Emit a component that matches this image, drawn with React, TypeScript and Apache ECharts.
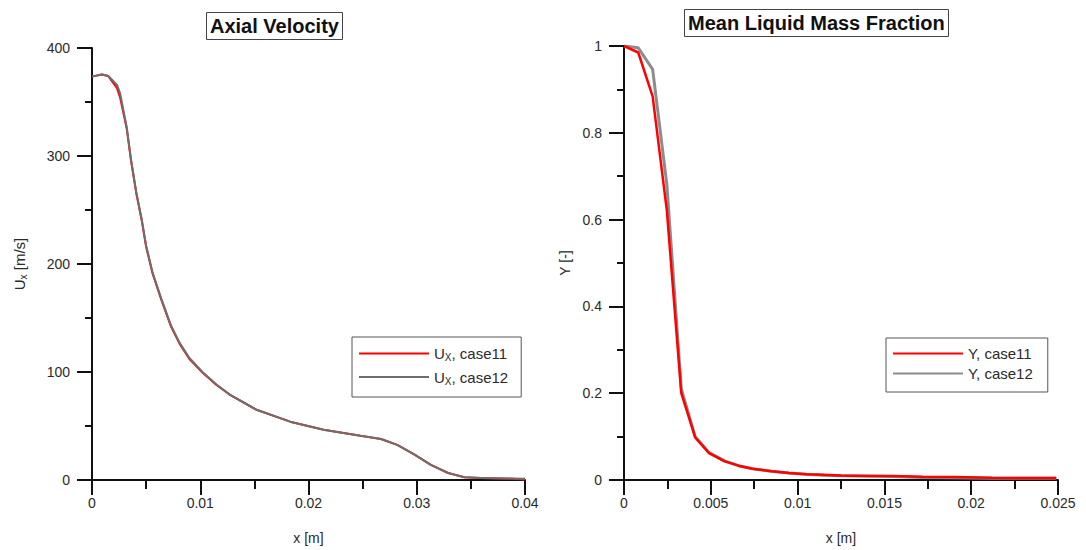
import React, { useEffect, useRef } from "react";
import * as echarts from "echarts";

// ---- Axial velocity (left panel) ----
const velX = [0, 0.0009, 0.0015, 0.0023, 0.0026, 0.0032, 0.0036, 0.0041, 0.0046, 0.005, 0.0056, 0.0064, 0.0073, 0.0081, 0.009, 0.0102, 0.0115, 0.0128, 0.0152, 0.0183, 0.0214, 0.0248, 0.0267, 0.0282, 0.0298, 0.0313, 0.0329, 0.0344, 0.0359, 0.0381, 0.04];
const velCase11 = [373.5, 375.5, 374, 363, 354, 326, 296, 265, 240, 216, 191, 167, 142, 126, 112, 99.5, 88, 78.5, 65, 54, 46.5, 41, 38, 32.5, 23.5, 14, 6.5, 2.5, 1.8, 1.5, 0.5];
const velCase12 = [373.5, 375.5, 374, 366, 358, 327, 297, 266, 241, 217, 192, 168, 143, 127, 113, 100, 88.4, 78.6, 65, 54, 46.5, 41, 38, 32.5, 23.5, 14, 6.5, 2.5, 1.8, 1.5, 1.2];

// ---- Mean liquid mass fraction (right panel) ----
const fracX = [0, 0.00082, 0.00165, 0.00247, 0.0033, 0.0041, 0.0049, 0.0058, 0.0066, 0.0074, 0.0085, 0.0095, 0.0105, 0.0115, 0.0125, 0.014, 0.0155, 0.0172, 0.019, 0.0212, 0.023, 0.0249];
const fracCase11 = [1, 0.985, 0.884, 0.62, 0.2, 0.098, 0.062, 0.043, 0.033, 0.026, 0.02, 0.016, 0.013, 0.012, 0.0105, 0.0095, 0.009, 0.0075, 0.007, 0.005, 0.0048, 0.0045];
const fracCase12 = [1, 0.996, 0.946, 0.68, 0.21, 0.1, 0.063, 0.044, 0.033, 0.026, 0.02, 0.016, 0.013, 0.011, 0.01, 0.009, 0.008, 0.006, 0.005, 0.004, 0.004, 0.004];

const titles = ["Axial Velocity", "Mean Liquid Mass Fraction"];
const legendNames = ["Ux, case11", "Ux, case12", "Y, case11", "Y, case12"];

const FONT = "'Liberation Sans', Arial, sans-serif";
const zip = (xs: number[], ys: number[]) => xs.map((x, i) => [x, ys[i]]);

const axisCommon = {
  axisLine: { show: true, onZero: false, lineStyle: { color: "#111", width: 2 } },
  splitLine: { show: false },
  axisLabel: { color: "#2a2a2a", fontSize: 14, fontFamily: FONT, showMinLabel: true, showMaxLabel: true },
  nameTextStyle: { color: "#2a2a2a", fontSize: 14, fontFamily: FONT },
};

export default function App() {
  const ref = useRef<HTMLDivElement>(null);
  useEffect(() => {
    if (!ref.current) return;
    const chart = echarts.init(ref.current, null, { renderer: "svg" });
    const richSub = {
      a: { fontSize: 15, fontFamily: FONT, color: "#2a2a2a", lineHeight: 18, verticalAlign: "middle" },
      b: { fontSize: 10, fontFamily: FONT, color: "#2a2a2a", lineHeight: 10, verticalAlign: "bottom" },
    };
    const legendFmt = (name: string) => {
      if (name.startsWith("Ux")) return "{a|U}{b|X}{a|" + name.slice(2) + "}";
      return "{a|" + name + "}";
    };
    chart.setOption({
      animation: false,
      backgroundColor: "#fff",
      title: [
        {
          text: titles[0], left: 206, top: 12, padding: [4, 4, 4, 4],
          borderColor: "#444", borderWidth: 1,
          textStyle: { fontSize: 20, fontWeight: "bold", fontFamily: FONT, color: "#111" },
        },
        {
          text: titles[1], left: 684, top: 9, padding: [4, 4, 4, 4],
          borderColor: "#444", borderWidth: 1,
          textStyle: { fontSize: 20, fontWeight: "bold", fontFamily: FONT, color: "#111" },
        },
      ],
      legend: [
        {
          data: [legendNames[0], legendNames[1]], orient: "vertical", left: 352, top: 337,
          padding: [9, 13, 11, 7], itemWidth: 70, itemHeight: 2, itemGap: 7, icon: "rect",
          borderColor: "#555", borderWidth: 1, formatter: legendFmt,
          textStyle: { rich: richSub, fontFamily: FONT, fontSize: 15 },
        },
        {
          data: [legendNames[2], legendNames[3]], orient: "vertical", left: 886, top: 338,
          padding: [8, 15, 11, 7], itemWidth: 70, itemHeight: 2, itemGap: 5, icon: "rect",
          borderColor: "#555", borderWidth: 1, formatter: legendFmt,
          textStyle: { rich: richSub, fontFamily: FONT, fontSize: 15 },
        },
      ],
      grid: [
        { left: 92, top: 48, width: 433, height: 434 },
        { left: 624, top: 46, width: 434, height: 435 },
      ],
      xAxis: [
        {
          ...axisCommon, type: "value", gridIndex: 0, min: 0, max: 0.04, interval: 0.01,
          axisTick: { show: true, length: 15, lineStyle: { color: "#111", width: 2 } },
          minorTick: { show: true, splitNumber: 2, length: 9, lineStyle: { color: "#111", width: 2 } },
          axisLabel: { ...axisCommon.axisLabel, margin: 16 },
          name: "x [m]", nameLocation: "middle", nameGap: 51,
        },
        {
          ...axisCommon, type: "value", gridIndex: 1, min: 0, max: 0.025, interval: 0.005,
          axisTick: { show: true, length: 15, lineStyle: { color: "#111", width: 2 } },
          minorTick: { show: true, splitNumber: 2, length: 9, lineStyle: { color: "#111", width: 2 } },
          axisLabel: { ...axisCommon.axisLabel, margin: 16 },
          name: "x [m]", nameLocation: "middle", nameGap: 51,
        },
      ],
      yAxis: [
        {
          ...axisCommon, type: "value", gridIndex: 0, min: 0, max: 400, interval: 100,
          axisTick: { show: true, length: 15, lineStyle: { color: "#111", width: 2 } },
          minorTick: { show: true, splitNumber: 2, length: 7, lineStyle: { color: "#111", width: 2 } },
          axisLabel: { ...axisCommon.axisLabel, margin: 22 },
          name: "{a|U}{b|x}{a| [m/s]}", nameLocation: "middle", nameGap: 64,
          nameTextStyle: { ...axisCommon.nameTextStyle, rich: {
            a: { fontSize: 15, fontFamily: FONT, color: "#2a2a2a", lineHeight: 18, verticalAlign: "middle" },
            b: { fontSize: 10, fontFamily: FONT, color: "#2a2a2a", lineHeight: 10, verticalAlign: "bottom" },
          } },
        },
        {
          ...axisCommon, type: "value", gridIndex: 1, min: 0, max: 1, interval: 0.2,
          axisTick: { show: true, length: 15, lineStyle: { color: "#111", width: 2 } },
          minorTick: { show: true, splitNumber: 2, length: 7, lineStyle: { color: "#111", width: 2 } },
          axisLabel: { ...axisCommon.axisLabel, margin: 22 },
          name: "Y [-]", nameLocation: "middle", nameGap: 52,
        },
      ],
      series: [
        {
          name: legendNames[0], type: "line", xAxisIndex: 0, yAxisIndex: 0, symbol: "none", z: 2,
          data: zip(velX, velCase11), lineStyle: { color: "#ff0000", width: 2 }, itemStyle: { color: "#ff0000" },
        },
        {
          name: legendNames[1], type: "line", xAxisIndex: 0, yAxisIndex: 0, symbol: "none", z: 3,
          data: zip(velX, velCase12), lineStyle: { color: "#6e6e6e", width: 2 }, itemStyle: { color: "#6e6e6e" },
        },
        {
          name: legendNames[2], type: "line", xAxisIndex: 1, yAxisIndex: 1, symbol: "none", z: 3,
          data: zip(fracX, fracCase11), lineStyle: { color: "#ff0000", width: 2.5 }, itemStyle: { color: "#ff0000" },
        },
        {
          name: legendNames[3], type: "line", xAxisIndex: 1, yAxisIndex: 1, symbol: "none", z: 2,
          data: zip(fracX, fracCase12), lineStyle: { color: "#8c8c8c", width: 3 }, itemStyle: { color: "#8c8c8c" },
        },
      ],
    });
    return () => chart.dispose();
  }, []);
  return (
    <div
      ref={ref}
      style={{ position: "absolute", left: 0, top: 0, width: 1086, height: 550, background: "#fff" }}
    />
  );
}
